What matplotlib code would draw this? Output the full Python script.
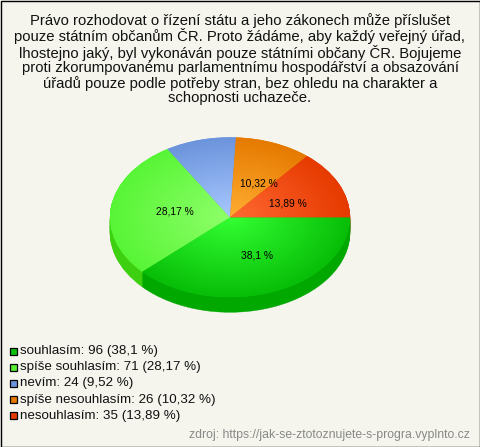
import numpy as np
import matplotlib
matplotlib.use("Agg")
import matplotlib.pyplot as plt
from matplotlib.colors import LinearSegmentedColormap
from matplotlib.patches import Rectangle

plt.rcParams['font.family'] = ['Liberation Sans', 'DejaVu Sans']

title = ("Právo rozhodovat o řízení státu a jeho zákonech může příslušet\n"
         "pouze státním občanům ČR. Proto žádáme, aby každý veřejný úřad,\n"
         "lhostejno jaký, byl vykonáván pouze státními občany ČR. Bojujeme\n"
         "proti zkorumpovanému parlamentnímu hospodářství a obsazování\n"
         "úřadů pouze podle potřeby stran, bez ohledu na charakter a\n"
         "schopnosti uchazeče.")
categories = ["souhlasím", "spíše souhlasím", "nevím", "spíše nesouhlasím", "nesouhlasím"]
counts = [96, 71, 24, 26, 35]
percent_text = ["38,1", "28,17", "9,52", "10,32", "13,89"]
inner_colors = ["#33FF33", "#8FFF6A", "#A8C8FF", "#FFAE33", "#FF6A33"]
outer_colors = ["#08BE08", "#58F536", "#6C94DC", "#E67A00", "#E63A00"]
side_colors = ["#00A800", "#3CD010", "#5A80C8", "#CC6A00", "#CC3000"]
swatch_colors = ["#0DC00D", "#55EE33", "#6C94DC", "#E67A00", "#E63A00"]
label_px = {"38,1": (257, 255), "28,17": (175, 211), "10,32": (259, 183), "13,89": (288, 203)}
source = "zdroj: https://jak-se-ztotoznujete-s-progra.vyplnto.cz"

W, H = 480, 447
BG = "#F5F5EE"
fig = plt.figure(figsize=(W/100, H/100), dpi=100, facecolor=BG)

# pixel-space overlay
ov = fig.add_axes([0, 0, 1, 1], zorder=3)
ov.set_xlim(0, W); ov.set_ylim(H, 0); ov.axis("off"); ov.patch.set_alpha(0)

# pie axes: unit ellipse maps to rx=120, ry=80 px around (230, 217.3)
cx, cy, rx, ry, depth = 230, 217.3, 120, 80, 15
ax = fig.add_axes([(cx-rx)/W, 1-(cy+ry+depth)/H, 2*rx/W, (2*ry+depth)/H], zorder=2)
ax.patch.set_alpha(0)

for d in range(depth, 0, -1):
    ax.pie(counts, colors=side_colors, startangle=0, counterclock=False,
           radius=1, center=(0, -d/ry), wedgeprops=dict(linewidth=0.3, edgecolor=None))
    for p in ax.patches:
        p.set_edgecolor(p.get_facecolor())

top, _ = ax.pie(counts, colors=outer_colors, startangle=0, counterclock=False,
                radius=1, center=(0, 0), wedgeprops=dict(linewidth=0))
yy, xx = np.mgrid[-1:1:300j, -1:1:300j]
rr = np.clip(np.hypot(xx, yy), 0, 1)
for w, c0, c1 in zip(top, inner_colors, outer_colors):
    cmap = LinearSegmentedColormap.from_list("g", [c0, c1])
    im = ax.imshow(rr, cmap=cmap, vmin=0, vmax=1, extent=(-1, 1, -1, 1),
                   origin="lower", interpolation="bilinear", aspect="auto", zorder=w.get_zorder()+1)
    im.set_clip_path(w)
ax.set_xlim(-1, 1)
ax.set_ylim(-1-depth/ry, 1)
ax.set_aspect("auto")
ax.axis("off")

for key, (x, y) in label_px.items():
    ov.text(x, y, f"{key} %", ha="center", va="center", fontsize=7.4, color="#000000")

# title
ov.text(240, 59, title, ha="center", va="center", fontsize=10.7, color="#111111", linespacing=1.03)

# legend
y0, step = 351, 16.2
for i, (cat, n, pct, col) in enumerate(zip(categories, counts, percent_text, swatch_colors)):
    y = y0 + i*step
    ov.add_patch(Rectangle((10, y-3.5), 7, 7, facecolor=col, edgecolor="black", linewidth=0.9))
    ov.text(20, y, f"{cat}: {n} ({pct} %)", ha="left", va="center", fontsize=9.65, color="#111111")

ov.text(470, 435, source, ha="right", va="center", fontsize=8.8, color="#888888")

# frame
ov.add_patch(Rectangle((0.5, 0.5), W-1, H-1, fill=False, edgecolor="black", linewidth=1))

fig.savefig("out.png", dpi=100, facecolor=BG)
